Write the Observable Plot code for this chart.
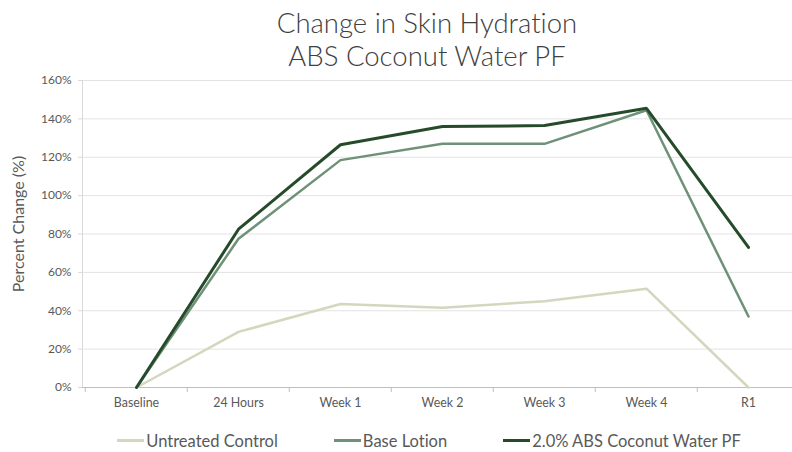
<!DOCTYPE html>
<html><head><meta charset="utf-8">
<script src="https://cdn.jsdelivr.net/npm/d3@7"></script>
<script src="https://cdn.jsdelivr.net/npm/@observablehq/plot@0.6"></script>
<style>
body{margin:0;background:#fff;font-family:Lato,"Open Sans",sans-serif;font-variant-ligatures:none;}
#wrap{width:792px;height:452px;overflow:hidden;background:#fff;}
#title{height:70px;box-sizing:border-box;padding-top:6px;padding-left:62px;text-align:center;font-size:27.5px;font-weight:300;line-height:33px;color:#404040;}
#chart svg{display:block;}
#legend{display:flex;justify-content:center;gap:56px;padding-left:66px;box-sizing:border-box;height:35px;padding-top:12px;align-items:center;font-size:16.5px;color:#595959;}
.item{display:flex;align-items:center;}
.sw{display:inline-block;width:27px;height:3px;margin-right:2px;}
</style>
</head><body>
<div id="wrap">
  <div id="title">Change in Skin Hydration<br>ABS Coconut Water PF</div>
  <div id="chart"></div>
  <div id="legend"></div>
</div>
<script>
const categories = ["Baseline","24 Hours","Week 1","Week 2","Week 3","Week 4","R1"];
const seriesNames = ["Untreated Control","Base Lotion","2.0% ABS Coconut Water PF"];
const untreated  = [0, 29, 43.5, 41.5, 45, 51.5, 0];
const baseLotion = [0, 77.5, 118.5, 127, 127, 144.5, 37];
const coconut    = [0, 82.5, 126.5, 136, 136.5, 145.5, 73];
const yTicks = [0,20,40,60,80,100,120,140,160];
const colors = ["#d3d7bd","#6e9277","#254b2a"];
const widths = [2.5, 2.5, 3];

const seriesValues = [untreated, baseLotion, coconut];
const rows = seriesValues.map((vals, s) => categories.map((c, i) => ({cat: c, value: vals[i], series: seriesNames[s]})));

const plot = Plot.plot({
  width: 792, height: 347,
  marginTop: 10, marginBottom: 30, marginLeft: 82, marginRight: 0,
  style: {fontFamily: "Lato, 'Open Sans', sans-serif", fontSize: "12px", color: "#595959", background: "white", fontVariantLigatures: "none"},
  x: {type: "band", domain: categories, range: [83.5, 801], padding: 0},
  y: {domain: [0, 160]},
  marks: [
    Plot.gridY(yTicks, {stroke: "#e3e3e3", strokeOpacity: 1}),
    Plot.axisY(yTicks, {tickFormat: d => d + "%", tickSize: 4, tickPadding: 7, stroke: "#d9d9d9", label: null, fontSize: 12}),
    Plot.frame({anchor: "left", stroke: "#d9d9d9"}),
    Plot.text(["Percent Change (%)"], {frameAnchor: "left", textAnchor: "middle", rotate: -90, dx: -64, dy: -10, fontSize: 16, fill: "#595959"}),
    Plot.ruleY([0], {stroke: "#bfbfbf", strokeWidth: 1.2}),
    Plot.axisX({tickSize: 0, tickPadding: 11, label: null, fontSize: 12.4}),
    Plot.axisX({text: null, tickSize: 5, dx: -51.25, stroke: "#bfbfbf", label: null}),
    ...rows.map((r, s) => Plot.line(r, {x: "cat", y: "value", stroke: colors[s], strokeWidth: widths[s], strokeLinejoin: "miter"}))
  ]
});
document.getElementById("chart").appendChild(plot);

const legend = document.getElementById("legend");
seriesNames.forEach((name, s) => {
  const item = document.createElement("div");
  item.className = "item";
  const sw = document.createElement("span");
  sw.className = "sw";
  sw.style.background = colors[s];
  const t = document.createElement("span");
  t.textContent = name;
  item.appendChild(sw); item.appendChild(t);
  legend.appendChild(item);
});
</script>
</body></html>
